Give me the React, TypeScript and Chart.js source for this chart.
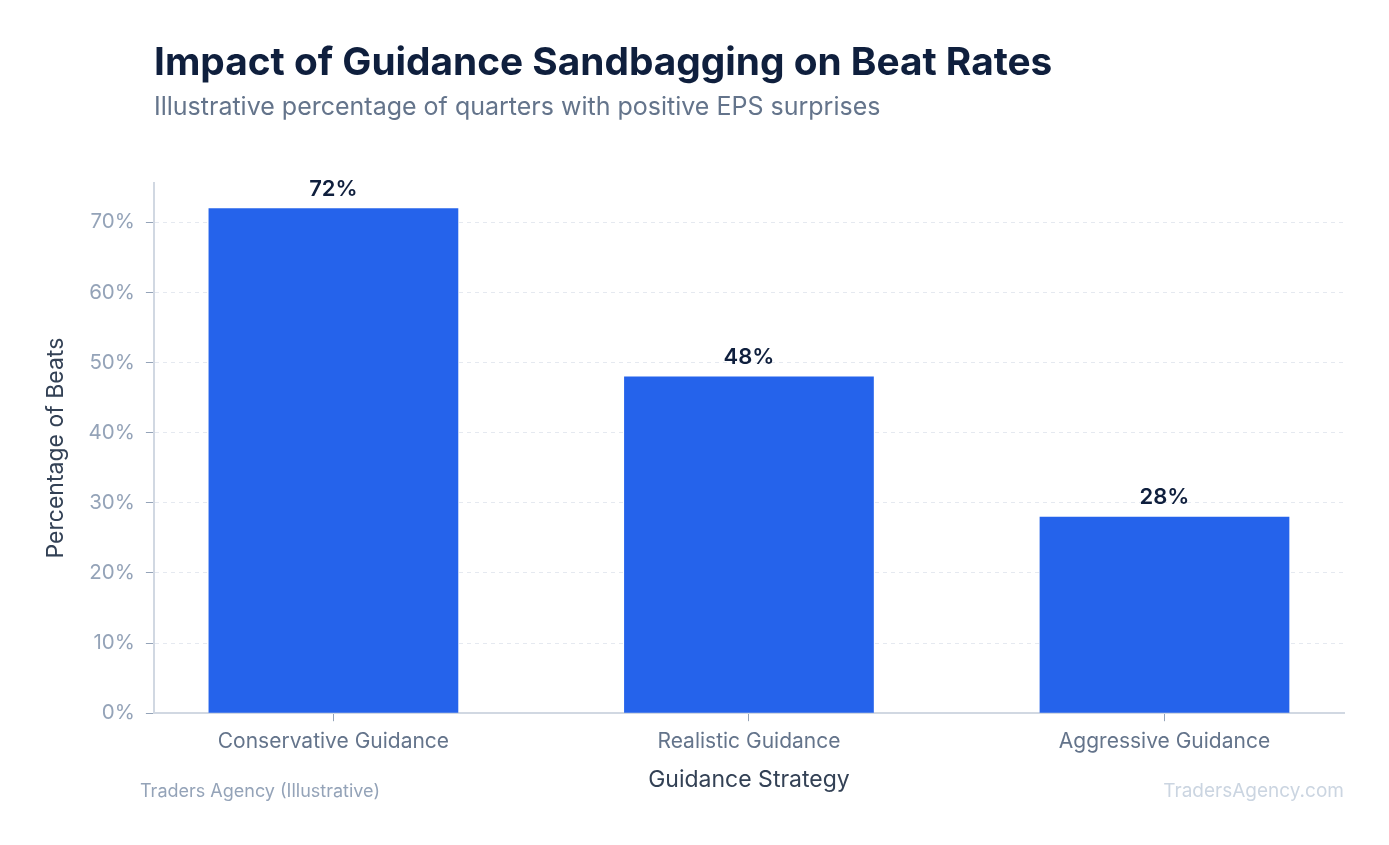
import Chart from 'chart.js/auto';
import { useEffect, useRef } from 'react';

const FONT = 'Inter';
const BAR_COLOR = '#2563eb';
const TITLE_COLOR = '#0f1f3d';
const SUBTITLE_COLOR = '#64748b';
const TICK_Y_COLOR = '#94a3b8';
const TICK_X_COLOR = '#64748b';
const AXIS_TITLE_COLOR = '#334155';
const GRID_COLOR = '#e5e9f0';
const BORDER_COLOR = '#d1d8e2';

const categories = ['Conservative Guidance', 'Realistic Guidance', 'Aggressive Guidance'];
const beatRates = [72, 48, 28];
const yTicks = [0, 10, 20, 30, 40, 50, 60, 70];
const Y_MAX = 75.6;
// the categories sit a little closer to the plot edges than a plain category axis puts them
const X_EDGE = 0.432;

const BeatRateChart = () => {
  const chartRef = useRef<HTMLCanvasElement | null>(null);

  useEffect(() => {
    if (chartRef.current === null) return () => {};
    const aChart = new Chart(chartRef.current, {
      type: 'bar',
      plugins: [{
        id: 'valueLabels',
        afterDatasetsDraw(chart) {
          const { ctx } = chart;
          const meta = chart.getDatasetMeta(0);
          ctx.save();
          ctx.font = `600 22px ${FONT}`;
          ctx.fillStyle = TITLE_COLOR;
          ctx.textAlign = 'center';
          ctx.textBaseline = 'middle';
          meta.data.forEach((bar, i) => {
            ctx.fillText(`${beatRates[i]}%`, bar.x, bar.y - 19);
          });
          ctx.restore();
        },
      }],
      data: {
        datasets: [{
          data: beatRates.map((value, i) => ({ x: i, y: value })),
          backgroundColor: BAR_COLOR,
          borderWidth: 0,
          barPercentage: 0.601,
          categoryPercentage: 1,
        }],
      },
      options: {
        animation: false,
        responsive: false,
        layout: {
          padding: { left: 32, right: 45, top: 183, bottom: 47 },
        },
        plugins: {
          legend: { display: false },
          tooltip: { enabled: false },
        },
        scales: {
          y: {
            min: 0,
            max: Y_MAX,
            afterBuildTicks: (scale) => {
              scale.ticks = yTicks.map((value) => ({ value }));
            },
            ticks: {
              color: TICK_Y_COLOR,
              font: { family: FONT, size: 20.5 },
              padding: 11,
              callback: (value) => `${value}%`,
            },
            grid: {
              color: GRID_COLOR,
              tickColor: '#94a3b8',
              tickLength: 8,
            },
            border: {
              color: BORDER_COLOR,
              width: 2,
              dash: [4, 4],
            },
            title: {
              display: true,
              text: 'Percentage of Beats',
              color: AXIS_TITLE_COLOR,
              font: { family: FONT, size: 23 },
              padding: { top: 10, bottom: 8 },
            },
          },
          x: {
            type: 'linear',
            offset: false,
            min: -X_EDGE,
            max: categories.length - 1 + X_EDGE,
            afterBuildTicks: (scale) => {
              scale.ticks = categories.map((_, i) => ({ value: i }));
            },
            ticks: {
              color: TICK_X_COLOR,
              font: { family: FONT, size: 21 },
              padding: 8,
              autoSkip: false,
              maxRotation: 0,
              callback: (value) => categories[Number(value)] ?? '',
            },
            grid: {
              offset: false,
              drawOnChartArea: false,
              tickColor: '#94a3b8',
              tickLength: 8,
            },
            border: {
              color: BORDER_COLOR,
              width: 2,
            },
            title: {
              display: true,
              text: 'Guidance Strategy',
              color: AXIS_TITLE_COLOR,
              font: { family: FONT, size: 23 },
              padding: { top: 4, bottom: 4 },
            },
          },
        },
      },
    });
    return () => {
      aChart.destroy();
    };
  }, []);

  return <canvas ref={chartRef} width={1389} height={845} style={{ display: 'block' }} />;
};

const App = () => (
  <div style={{ position: 'fixed', left: 0, top: 0, width: 1389, height: 845, background: '#fff', fontFamily: FONT }}>
    <BeatRateChart />
    <div style={{ position: 'absolute', left: 154, top: 35, fontSize: 38.8, fontWeight: 700, color: TITLE_COLOR, lineHeight: '52px', whiteSpace: 'nowrap' }}>
      Impact of Guidance Sandbagging on Beat Rates
    </div>
    <div style={{ position: 'absolute', left: 154, top: 90, fontSize: 25, color: SUBTITLE_COLOR, lineHeight: '32px', whiteSpace: 'nowrap' }}>
      Illustrative percentage of quarters with positive EPS surprises
    </div>
    <div style={{ position: 'absolute', left: 140, top: 779, fontSize: 18, color: TICK_Y_COLOR, lineHeight: '24px' }}>
      Traders Agency (Illustrative)
    </div>
    <div style={{ position: 'absolute', right: 45, top: 779, fontSize: 19, color: '#cbd5e1', lineHeight: '24px' }}>
      TradersAgency.com
    </div>
  </div>
);

export default App;
